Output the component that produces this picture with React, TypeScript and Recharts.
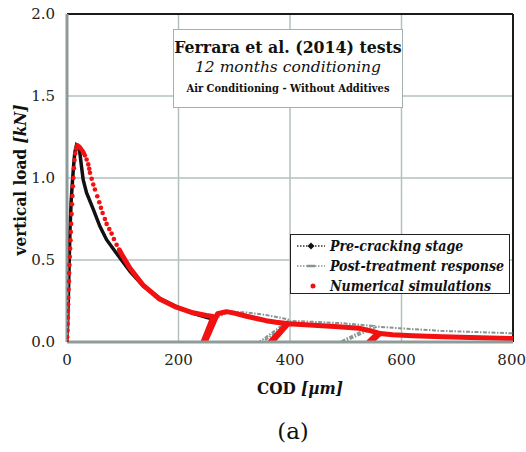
import React from "react";
import { CartesianGrid, Label, Line, LineChart, ReferenceLine, XAxis, YAxis } from "recharts";

// COD [µm] vs vertical load [kN]
type Pt = [number, number];

const xTicks = [0, 200, 400, 600, 800];
const yTicks = [0, 0.5, 1, 1.5, 2];

// pre-cracking test curve, ending with the unload at ~250 µm
const preCracking: Pt[] = [
    [0, 0], [1, 0.1], [2.4, 0.28], [4, 0.5], [5.4, 0.685], [7.5, 0.86], [10, 0.99], [12, 1.08],
    [14, 1.155], [17, 1.2], [20, 1.19], [23, 1.155], [26, 1.07], [29, 0.99], [35, 0.91],
    [47, 0.81], [59, 0.705], [71, 0.624], [89, 0.54], [113, 0.43], [137, 0.34], [166, 0.267],
    [196, 0.216], [226, 0.175], [250, 0.15], [262, 0.14], [253, 0.043], [248, 0],
];

// post-treatment reloading cycles
const postTreatment: Pt[] = [
    [250, 0], [270, 0.15], [292, 0.185], [322, 0.18], [357, 0.165], [387, 0.145], [399, 0.135],
    [345, 0], [351, 0], [402, 0.128], [435, 0.124], [495, 0.114], [548, 0.098],
    [489, 0], [496, 0], [556, 0.094], [596, 0.084], [670, 0.068], [740, 0.06], [800, 0.053],
];

// simulation points drawn as single dots around the peak
const simPeak: Pt[] = [
    [0, 0], [0.4, 0.03], [0.8, 0.07], [1.1, 0.11], [1.4, 0.15], [1.7, 0.19], [2.0, 0.23],
    [2.4, 0.27], [2.9, 0.32], [3.4, 0.37], [3.9, 0.42], [4.4, 0.47], [5.0, 0.52], [5.6, 0.57],
    [6.2, 0.62], [6.8, 0.67], [7.5, 0.72], [8.2, 0.78], [8.9, 0.84], [9.7, 0.89], [10.5, 0.95],
    [11.4, 1.0], [12.4, 1.06], [13.5, 1.11], [14.8, 1.15], [16.4, 1.18], [18.5, 1.2],
    [21, 1.193], [23.3, 1.185], [25.6, 1.175], [28, 1.164], [30, 1.152], [32, 1.138],
    [35.2, 1.113], [38.1, 1.083], [39.9, 1.056], [41.2, 1.032], [44.2, 0.995], [47.1, 0.96],
    [50.1, 0.93], [54.3, 0.889], [57.9, 0.852], [60.9, 0.818], [63.9, 0.787], [68, 0.75],
    [71.1, 0.72], [75.8, 0.689], [80, 0.661], [84.1, 0.628], [89, 0.593], [93.6, 0.563],
];

// simulation tail, dense enough to read as a solid band
const simTail: Pt[] = [
    [93.6, 0.563], [98, 0.535], [113, 0.45], [137, 0.345], [166, 0.262], [196, 0.212],
    [226, 0.178], [250, 0.162], [262, 0.155], [244, 0], [248, 0], [270, 0.172], [286, 0.185],
    [300, 0.176], [322, 0.157], [340, 0.143], [357, 0.13], [375, 0.121], [395, 0.113],
    [364, 0], [368, 0], [397, 0.112], [435, 0.104], [480, 0.094], [524, 0.084], [545, 0.068],
    [558, 0.056], [541, 0], [545, 0], [562, 0.052], [584, 0.044], [620, 0.038], [673, 0.032],
    [740, 0.026], [800, 0.021],
];

const toRows = (pts: Pt[]) => pts.map(([x, y]) => ({ x, y }));

// condensed cut only ships in bold here, regular text uses the normal width
const SERIF_BOLD = "'DejaVu Serif Condensed', 'DejaVu Serif', serif";
const SERIF = "'DejaVu Serif', serif";
const GRID = "#b3c2bf";
const AXIS = "#8d9c9a";
const POST = "#879593";

function XTitle({ viewBox }: any) {
    const cx = viewBox.x + viewBox.width / 2 + 10;
    return (
        <g fill="#111">
            <text
                x={cx}
                y={viewBox.y + 52}
                textAnchor="middle"
                fontSize={17}
                fontWeight="bold"
                style={{ fontFamily: SERIF_BOLD }}
            >
                COD <tspan fontStyle="italic">[µm]</tspan>
            </text>
            <text x={cx - 7} y={viewBox.y + 97} textAnchor="middle" fontSize={23} style={{ fontFamily: SERIF }}>
                (a)
            </text>
        </g>
    );
}

function YTitle({ viewBox }: any) {
    const cy = viewBox.y + viewBox.height / 2 + 2;
    return (
        <text
            x={26}
            y={cy}
            transform={`rotate(-90 26 ${cy})`}
            textAnchor="middle"
            style={{ fontFamily: SERIF_BOLD }}
            fontSize={17}
            fontWeight="bold"
            fill="#111"
        >
            vertical load <tspan fontStyle="italic">[kN]</tspan>
        </text>
    );
}

function LegendBox() {
    const row = (icon: React.ReactNode, text: string) => (
        <div style={{ display: "flex", alignItems: "center", height: 20 }}>
            <svg width={32} height={10} style={{ flex: "none" }}>
                {icon}
            </svg>
            <span style={{ marginLeft: 3 }}>{text}</span>
        </div>
    );
    return (
        <div
            style={{
                position: "absolute",
                left: 290,
                top: 234,
                width: 214,
                height: 57,
                background: "#fff",
                border: "1.5px solid #222",
                fontFamily: SERIF_BOLD,
                fontStyle: "italic",
                fontWeight: "bold",
                fontSize: 14,
                color: "#111",
                padding: "1px 0 0 4px",
                boxSizing: "content-box",
                lineHeight: "20px",
                whiteSpace: "nowrap",
            }}
        >
            {row(
                <>
                    <line x1={2} y1={5} x2={30} y2={5} stroke="#333" strokeWidth={1.3} strokeDasharray="1.5 1.5" />
                    <path d="M16 1.5 L19.5 5 L16 8.5 L12.5 5 Z" fill="#111" />
                </>,
                "Pre-cracking stage"
            )}
            {row(
                <>
                    <line x1={2} y1={5} x2={30} y2={5} stroke={POST} strokeWidth={1.5} strokeDasharray="1.5 1.5" />
                    <line x1={12} y1={5} x2={20} y2={5} stroke={POST} strokeWidth={2.5} />
                </>,
                "Post-treatment response"
            )}
            {row(<circle cx={18} cy={5} r={2.5} fill="#f01010" />, "Numerical simulations")}
        </div>
    );
}

function TitleBox() {
    return (
        <div
            style={{
                position: "absolute",
                left: 173,
                top: 29,
                width: 228,
                height: 77,
                background: "#fff",
                border: "1.5px solid #a3b2b0",
                color: "#111",
                textAlign: "center",
                whiteSpace: "nowrap",
            }}
        >
            <div
                style={{ fontFamily: SERIF_BOLD, fontSize: 17.5, fontWeight: "bold", lineHeight: "20px", marginTop: 7 }}
            >
                Ferrara et al. (2014) tests
            </div>
            <div style={{ fontFamily: SERIF, fontSize: 15.5, fontStyle: "italic", lineHeight: "20px" }}>
                12 months conditioning
            </div>
            <div
                style={{ fontFamily: SERIF_BOLD, fontSize: 11, fontWeight: "bold", lineHeight: "20px", marginTop: 2 }}
            >
                Air Conditioning - Without Additives
            </div>
        </div>
    );
}

export default function App() {
    return (
        <div style={{ position: "absolute", left: 0, top: 0, width: 526, height: 452, background: "#fff" }}>
            <LineChart width={526} height={452} margin={{ top: 14, right: 13, bottom: 0, left: 0 }}>
                <CartesianGrid stroke={GRID} strokeWidth={1.5} />
                <XAxis
                    type="number"
                    dataKey="x"
                    domain={[0, 800]}
                    ticks={xTicks}
                    height={110}
                    allowDataOverflow
                    stroke={AXIS}
                    strokeWidth={3}
                    tickLine={false}
                    tick={{ fill: "#222", fontSize: 15, style: { fontFamily: SERIF } }}
                    tickMargin={6}
                >
                    <Label content={<XTitle />} />
                </XAxis>
                <YAxis
                    type="number"
                    domain={[0, 2]}
                    ticks={yTicks}
                    width={67}
                    allowDataOverflow
                    stroke={AXIS}
                    strokeWidth={3}
                    tickLine={false}
                    tick={{ fill: "#222", fontSize: 15, style: { fontFamily: SERIF } }}
                    tickMargin={6}
                    tickFormatter={(v: number) => v.toFixed(1)}
                >
                    <Label content={<YTitle />} />
                </YAxis>
                <ReferenceLine y={2} stroke="#1a1a1a" strokeWidth={2} />
                <ReferenceLine x={800} stroke="#1a1a1a" strokeWidth={2} />
                <Line
                    data={toRows(postTreatment)}
                    dataKey="y"
                    type="linear"
                    stroke={POST}
                    strokeWidth={2}
                    strokeDasharray="4 1.5 1.5 1.5"
                    dot={false}
                    isAnimationActive={false}
                />
                <Line
                    data={toRows(preCracking)}
                    dataKey="y"
                    type="linear"
                    stroke="#111"
                    strokeWidth={3.5}
                    dot={false}
                    isAnimationActive={false}
                />
                <Line
                    data={toRows(simTail)}
                    dataKey="y"
                    type="linear"
                    stroke="#f21010"
                    strokeWidth={5}
                    strokeLinejoin="round"
                    dot={false}
                    isAnimationActive={false}
                />
                <Line
                    data={toRows(simPeak)}
                    dataKey="y"
                    type="linear"
                    stroke="none"
                    dot={{ r: 2.3, fill: "#f21010", stroke: "none" }}
                    isAnimationActive={false}
                />
            </LineChart>
            <TitleBox />
            <LegendBox />
        </div>
    );
}
